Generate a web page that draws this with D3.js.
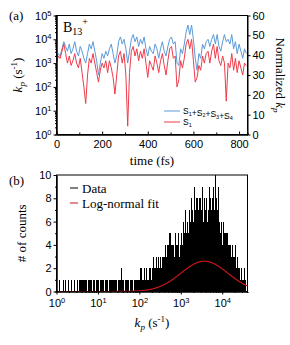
<!DOCTYPE html>
<html>
<head>
<meta charset="utf-8">
<script src="https://cdn.jsdelivr.net/npm/d3@7"></script>
<style>
  body { margin: 0; background: #fff; }
  svg { display: block; }
  .tick text { font-family: "Liberation Sans", Arial, sans-serif; }
  .serif { font-family: "Liberation Serif", "Times New Roman", serif; }
</style>
</head>
<body>
<svg id="chart" width="290" height="345"></svg>
<script>
// ===================== DATA =====================

// panel (a): time in fs, log10 of k_p
const timeFs = d3.range(0, 840, 8);
const logKpAll = [
  3.2, 3.4, 3.3, 3.6, 3.9, 3.7, 3.5, 3.8, 3.4, 3.6,
  3.9, 3.5, 3.3, 3.7, 3.5, 3.2, 3.0, 3.4, 3.8, 3.6,
  3.9, 3.5, 3.1, 2.5, 3.0, 3.4, 3.2, 3.5, 3.3, 3.6,
  3.8, 3.4, 3.0, 3.3, 3.9, 4.1, 3.8, 4.0, 3.6, 3.0,
  3.5, 4.0, 4.2, 3.9, 4.1, 3.7, 4.0, 3.8, 4.1, 3.6,
  3.3, 3.7, 3.5, 3.4, 3.8, 3.6, 3.2, 3.6, 3.9, 3.5,
  3.3, 3.7, 4.0, 4.1, 3.8, 3.9, 3.0, 2.9, 3.6, 3.4,
  3.8, 4.3, 4.6, 4.2, 4.6, 4.0, 3.2, 2.7, 3.4, 3.2,
  3.8, 3.6, 3.9, 4.0, 3.7, 4.0, 4.2, 3.8, 4.2, 3.7,
  3.5, 3.9, 4.2, 3.9, 4.0, 3.8, 4.2, 3.6, 3.9, 3.4,
  3.8, 3.5, 3.2, 3.6, 3.4
];
const logKpS1 = [
  3.0, 3.3, 3.2, 3.5, 3.8, 3.4, 3.0, 3.3, 2.9, 3.1,
  3.4, 3.0, 2.8, 3.2, 2.6, 2.0, 1.3, 2.5, 3.2, 3.0,
  3.4, 3.0, 2.6, 2.2, 2.7, 3.0, 2.8, 3.1, 2.6, 3.1,
  2.8, 2.4, 1.7, 2.5, 3.3, 3.5, 3.0, 3.4, 2.5, 0.35,
  2.6, 3.5, 3.7, 3.3, 3.6, 3.1, 3.5, 3.2, 3.6, 3.0,
  2.4, 3.1, 2.9, 2.7, 3.3, 3.0, 2.6, 3.1, 3.4, 2.9,
  2.5, 3.1, 3.6, 3.7, 3.2, 3.3, 2.0, 2.3, 3.1, 2.8,
  3.2, 3.8, 4.0, 3.6, 4.0, 3.1, 2.2, 2.4, 2.9, 2.7,
  3.3, 3.0, 3.4, 3.5, 3.0, 3.5, 3.8, 3.2, 3.7, 3.1,
  2.9, 3.3, 3.0, 1.4, 3.0, 2.8, 3.4, 2.7, 3.2, 2.6,
  3.1, 2.8, 2.5, 3.0, 2.9
];

// panel (b): histogram of k_p, bins of 0.025 decade starting at 10^0
const binWidthLog = 0.025;
const histCounts = [
  0,0,1,0,0,0,1,0,1,0, 0,1,0,0,1,0,0,1,0,0,
  1,0,1,1,1,0,1,1,1,0, 1,1,1,1,0,1,1,0,1,1,
  1,0,1,1,1,1,0,1,1,1, 0,1,1,0,1,1,1,1,0,1,
  1,1,2,1,1,0,1,1,1,1, 0,1,1,1,0,1,1,1,1,1,
  1,2,1,1,2,1,2,1,1,2, 2,1,2,3,2,2,3,2,3,2,
  3,2,3,3,3,4,3,4,3,5, 3,4,4,3,5,4,4,5,3,4,
  5,4,6,5,7,5,6,5,7,6, 8,7,6,9,7,8,6,7,8,7,
  9,6,8,7,8,6,7,9,8,7, 8,9,7,10,8,7,9,6,5,6,
  4,6,5,4,5,4,3,4,3,4, 3,3,4,2,3,2,2,1,2,1,
  1,2,1,0
];

// log-normal fit (gaussian in log10 k_p)
const fitCenterLog = 3.57;
const fitSigmaLog = 0.565;
const fitPeak = 2.6;

const colAll = '#5b9bd8';
const colS1 = '#ee3c4a';
const colFit = '#c4161c';

// ===================== HELPERS =====================

const svg = d3.select('#chart');
const supLabel = (sel, base, exp) => {
  sel.text(null);
  sel.append('tspan').text(base);
  sel.append('tspan').attr('dy', -4).attr('font-size', 7.5).text(exp);
};

// ===================== PANEL (a) =====================

const ax = { l: 56.5, r: 247.5, t: 15.5, b: 134.5 };
const xA = d3.scaleLinear().domain([0, 837]).range([ax.l, ax.r]);
const yA = d3.scaleLog().domain([1, 1e5]).range([ax.b, ax.t]);
const yAR = d3.scaleLinear().domain([0, 60]).range([ax.b, ax.t]);

const gA = svg.append('g');
gA.append('rect').attr('x', ax.l).attr('y', ax.t)
  .attr('width', ax.r - ax.l).attr('height', ax.b - ax.t)
  .attr('fill', 'none').attr('stroke', '#000').attr('stroke-width', 1);

const line = d3.line().x((d, i) => xA(timeFs[i])).y(d => yA(Math.pow(10, d)));
gA.append('path').datum(logKpAll).attr('d', line)
  .attr('fill', 'none').attr('stroke', colAll).attr('stroke-width', 1);
gA.append('path').datum(logKpS1).attr('d', line)
  .attr('fill', 'none').attr('stroke', colS1).attr('stroke-width', 1);

// x axis (ticks inward)
gA.append('g').attr('transform', `translate(0,${ax.b})`)
  .call(d3.axisBottom(xA).tickValues([0, 200, 400, 600, 800]).tickSizeInner(-3).tickSizeOuter(0).tickPadding(6));
gA.append('g').attr('transform', `translate(0,${ax.b})`)
  .call(d3.axisBottom(xA).tickValues([100, 300, 500, 700]).tickSize(-2).tickFormat(''));
// left log axis
const yAxA = gA.append('g').attr('transform', `translate(${ax.l},0)`)
  .call(d3.axisLeft(yA).tickValues([1, 10, 100, 1e3, 1e4, 1e5]).tickSizeInner(3).tickSizeOuter(0).tickPadding(2));
yAxA.selectAll('.tick text').each(function(d) { supLabel(d3.select(this), '10', Math.round(Math.log10(d))); });
const minorA = [];
for (let e = 0; e < 5; e++) for (let m = 2; m < 10; m++) minorA.push(m * Math.pow(10, e));
gA.append('g').attr('transform', `translate(${ax.l},0)`)
  .call(d3.axisLeft(yA).tickValues(minorA).tickSize(1.5).tickFormat(''));
// right axis
gA.append('g').attr('transform', `translate(${ax.r},0)`)
  .call(d3.axisRight(yAR).tickValues(d3.range(0, 61, 10)).tickSizeInner(3).tickSizeOuter(0).tickPadding(2));

gA.selectAll('.domain').attr('stroke', '#000');
gA.selectAll('.tick text').attr('font-size', 11).attr('fill', '#000');

// labels
svg.append('text').attr('class', 'serif').attr('x', 9).attr('y', 20).attr('font-size', 13).text('(a)');
const bLab = svg.append('text').attr('class', 'serif').attr('x', 63).attr('y', 32).attr('font-size', 14);
bLab.append('tspan').text('B');
bLab.append('tspan').attr('dy', 3).attr('font-size', 10).text('13');
bLab.append('tspan').attr('dy', -10).attr('font-size', 10).text('+');

const yTitleA = svg.append('text').attr('class', 'serif').attr('font-size', 13)
  .attr('transform', `translate(22,${(ax.t + ax.b) / 2}) rotate(-90)`).attr('text-anchor', 'middle');
yTitleA.append('tspan').attr('font-style', 'italic').text('k');
yTitleA.append('tspan').attr('font-style', 'italic').attr('font-size', 9).attr('dy', 3).text('p');
yTitleA.append('tspan').attr('dy', -3).text(' (s');
yTitleA.append('tspan').attr('dy', -5).attr('font-size', 9).text('-1');
yTitleA.append('tspan').attr('dy', 5).text(')');

const yTitleAR = svg.append('text').attr('class', 'serif').attr('font-size', 13)
  .attr('transform', `translate(276,${(ax.t + ax.b) / 2}) rotate(90)`).attr('text-anchor', 'middle');
yTitleAR.append('tspan').text('Normalized ');
yTitleAR.append('tspan').attr('font-style', 'italic').text('k');
yTitleAR.append('tspan').attr('font-style', 'italic').attr('font-size', 9).attr('dy', 3).text('p');

svg.append('text').attr('class', 'serif').attr('x', (ax.l + ax.r) / 2).attr('y', 165)
  .attr('text-anchor', 'middle').attr('font-size', 13).text('time (fs)');

// legend (a)
const legA = [
  { col: colAll, parts: [['S', '1'], ['+S', '2'], ['+S', '3'], ['+S', '4']], y: 111 },
  { col: colS1, parts: [['S', '1']], y: 122 }
];
legA.forEach(l => {
  svg.append('line').attr('x1', 164).attr('x2', 180).attr('y1', l.y).attr('y2', l.y)
    .attr('stroke', l.col).attr('stroke-width', 1);
  const t = svg.append('text').attr('x', 183).attr('y', l.y + 3)
    .attr('font-family', '"Liberation Sans", Arial, sans-serif').attr('font-size', 8.5);
  l.parts.forEach(([b, s]) => {
    t.append('tspan').text(b);
    t.append('tspan').attr('font-size', 5.5).attr('dy', 1.5).text(s);
    t.append('tspan').attr('dy', -1.5).text('');
  });
});

// ===================== PANEL (b) =====================

const bx = { l: 56.5, r: 247.5, t: 175, b: 291.5 };
const xB = d3.scaleLog().domain([1, Math.pow(10, 4.61)]).range([bx.l, bx.r]);
const yB = d3.scaleLinear().domain([0, 10]).range([bx.b, bx.t]);

const gB = svg.append('g');

gB.append('g').selectAll('rect').data(histCounts).join('rect')
  .attr('x', (d, i) => xB(Math.pow(10, i * binWidthLog)))
  .attr('width', (d, i) => xB(Math.pow(10, (i + 1) * binWidthLog)) - xB(Math.pow(10, i * binWidthLog)) + 0.2)
  .attr('y', d => yB(d))
  .attr('height', d => yB(0) - yB(d))
  .attr('fill', '#000')
  .attr('shape-rendering', 'crispEdges');

gB.append('rect').attr('x', bx.l).attr('y', bx.t)
  .attr('width', bx.r - bx.l).attr('height', bx.b - bx.t)
  .attr('fill', 'none').attr('stroke', '#000').attr('stroke-width', 1);

const fitLogs = d3.range(0, 4.611, 0.01);
gB.append('path').datum(fitLogs)
  .attr('d', d3.line()
    .x(d => xB(Math.pow(10, d)))
    .y(d => yB(fitPeak * Math.exp(-0.5 * Math.pow((d - fitCenterLog) / fitSigmaLog, 2)))))
  .attr('fill', 'none').attr('stroke', colFit).attr('stroke-width', 1.2);

const xAxB = gB.append('g').attr('transform', `translate(0,${bx.b})`)
  .call(d3.axisBottom(xB).tickValues([1, 10, 100, 1e3, 1e4]).tickSizeInner(3).tickSizeOuter(0).tickPadding(5));
xAxB.selectAll('.tick text').each(function(d) { supLabel(d3.select(this), '10', Math.round(Math.log10(d))); });
const minorB = [];
for (let e = 0; e < 5; e++) for (let m = 2; m < 10; m++) if (m * Math.pow(10, e) <= Math.pow(10, 4.61)) minorB.push(m * Math.pow(10, e));
gB.append('g').attr('transform', `translate(0,${bx.b})`)
  .call(d3.axisBottom(xB).tickValues(minorB).tickSize(1.5).tickFormat(''));

gB.append('g').attr('transform', `translate(${bx.l},0)`)
  .call(d3.axisLeft(yB).tickValues(d3.range(0, 11, 2)).tickSizeInner(3).tickSizeOuter(0).tickPadding(2));
gB.append('g').attr('transform', `translate(${bx.l},0)`)
  .call(d3.axisLeft(yB).tickValues(d3.range(1, 10, 2)).tickSize(1.5).tickFormat(''));

gB.selectAll('.domain').attr('stroke', '#000');
gB.selectAll('.tick text').attr('font-size', 11).attr('fill', '#000');

svg.append('text').attr('class', 'serif').attr('x', 9).attr('y', 185).attr('font-size', 13).text('(b)');

svg.append('text').attr('class', 'serif').attr('font-size', 13)
  .attr('transform', `translate(26,${(bx.t + bx.b) / 2}) rotate(-90)`).attr('text-anchor', 'middle')
  .text('# of counts');

const xTitleB = svg.append('text').attr('class', 'serif').attr('font-size', 13)
  .attr('x', (bx.l + bx.r) / 2).attr('y', 327).attr('text-anchor', 'middle');
xTitleB.append('tspan').attr('font-style', 'italic').text('k');
xTitleB.append('tspan').attr('font-style', 'italic').attr('font-size', 9).attr('dy', 3).text('p');
xTitleB.append('tspan').attr('dy', -3).text(' (s');
xTitleB.append('tspan').attr('dy', -5).attr('font-size', 9).text('-1');
xTitleB.append('tspan').attr('dy', 5).text(')');

// legend (b)
[{ col: '#000', label: 'Data', y: 188 }, { col: colFit, label: 'Log-normal fit', y: 203 }].forEach(l => {
  svg.append('line').attr('x1', 70).attr('x2', 78).attr('y1', l.y).attr('y2', l.y)
    .attr('stroke', l.col).attr('stroke-width', 1);
  svg.append('text').attr('class', 'serif').attr('x', 82).attr('y', l.y + 4.5)
    .attr('font-size', 13).text(l.label);
});
</script>
</body>
</html>
